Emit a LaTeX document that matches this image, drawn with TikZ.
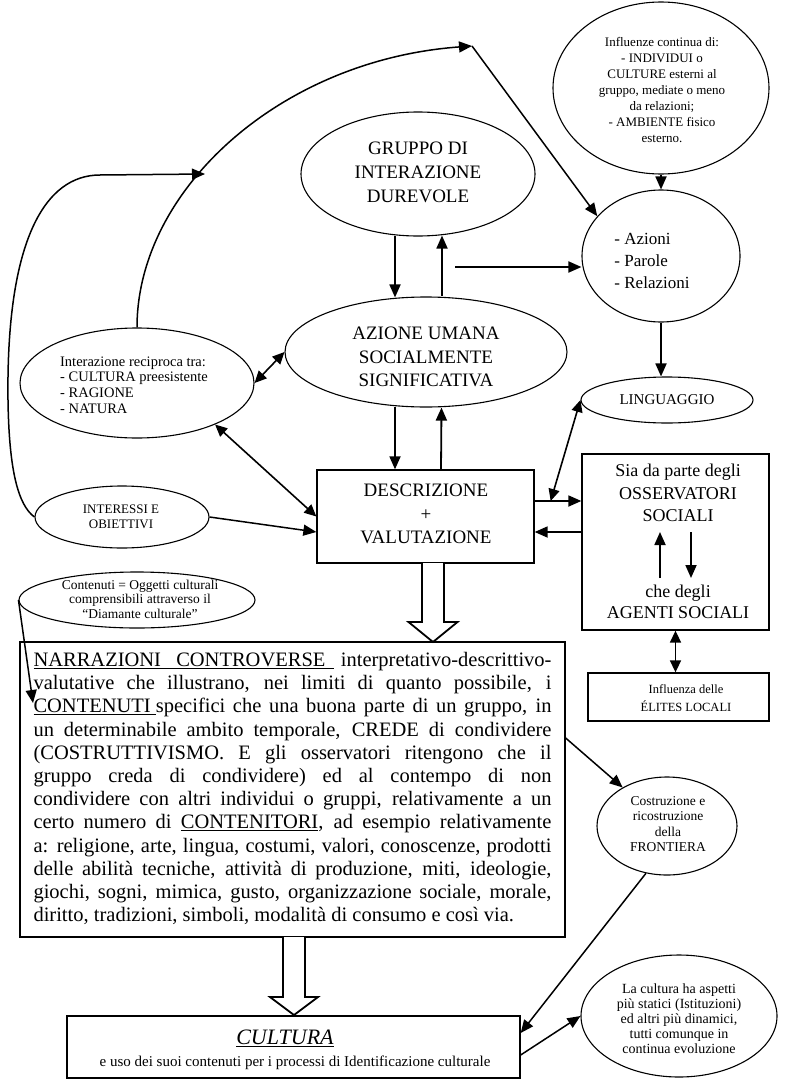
\documentclass[tikz,border=0pt]{standalone}
\usepackage{fontspec}
\setmainfont{Liberation Serif}
\usetikzlibrary{shapes.geometric,arrows.meta,calc}
\newcommand{\fsz}[2]{\fontsize{#1}{#2}\selectfont}
\newcommand{\jl}[1]{\makebox[518pt][s]{#1}}
\begin{document}
\begin{tikzpicture}[x=1pt,y=-1pt,
  ell/.style={draw, ellipse, line width=1.1pt, inner sep=0pt},
  box/.style={draw, rectangle, line width=1.3pt, inner sep=0pt},
  txt/.style={inner sep=0pt, align=center},
  tip/.style={-{Triangle[length=13pt,width=11pt]}},
  arr/.style={tip, line width=1.8pt},
  darr/.style={{Triangle[length=12pt,width=11pt]}-{Triangle[length=12pt,width=11pt]}, line width=1.6pt},
  curve/.style={tip, line width=1.5pt},
  hollow/.style={draw, line width=1.8pt, fill=white, line join=miter}]
\fill[white] (0,0) rectangle (785,1081);
\useasboundingbox (0,0) rectangle (785,1081);

% ---------- nodes ----------
\node[ell, minimum width=216, minimum height=172] (infl) at (661,88) {};
\node[txt, font=\fsz{13}{16}] (inflt) at (662,90) {Influenze continua di:\\- INDIVIDUI o\\CULTURE esterni al\\gruppo, mediate o meno\\da relazioni;\\- AMBIENTE fisico\\esterno.};

\node[ell, minimum width=158, minimum height=132] (azioni) at (661,256) {};
\node[txt, align=left, font=\fsz{17}{22}] (azionit) at (652,261) {- Azioni\\- Parole\\- Relazioni};

\node[ell, minimum width=234, minimum height=124] (gruppo) at (418,174) {};
\node[txt, font=\fsz{19}{24}] (gruppot) at (418,172) {GRUPPO DI\\INTERAZIONE\\DUREVOLE};

\node[ell, minimum width=282, minimum height=110] (azione) at (426,352) {};
\node[txt, font=\fsz{19}{23.5}] (azionet) at (426,357) {AZIONE UMANA\\SOCIALMENTE\\SIGNIFICATIVA};

\node[ell, minimum width=234, minimum height=110] (inter) at (137,383) {};
\node[txt, align=left, font=\fsz{14.5}{15.7}] (intert) at (134,385) {Interazione reciproca tra:\\- CULTURA preesistente\\- RAGIONE\\- NATURA};

\node[ell, minimum width=174, minimum height=62] (interessi) at (122,517) {};
\node[txt, font=\fsz{13}{14.5}] (interessit) at (121,517) {INTERESSI E\\OBIETTIVI};

\node[ell, minimum width=172, minimum height=46] (ling) at (667,400) {};
\node[txt, font=\fsz{15}{18}] (lingt) at (667,400) {LINGUAGGIO};

\node[box, minimum width=217, minimum height=93] (desc) at (425.5,516.5) {};
\node[txt, font=\fsz{19}{23.5}] (desct) at (426,514) {DESCRIZIONE\\+\\VALUTAZIONE};

\node[box, minimum width=187, minimum height=176] (obs) at (675.5,542) {};
\node[txt, font=\fsz{18}{22.5}] (obsa) at (678,493) {Sia da parte degli\\OSSERVATORI\hspace*{16pt}\\SOCIALI};
\node[txt, font=\fsz{18}{21}] (obsb) at (678,602) {che degli\\AGENTI SOCIALI};

\node[box, minimum width=181, minimum height=48] (elites) at (678.5,697) {};
\node[txt, font=\fsz{12.5}{18}] (elitest) at (686,698) {Influenza delle\\ÉLITES LOCALI};

\node[ell, minimum width=236, minimum height=56] (cont) at (137,600) {};
\node[txt, font=\fsz{13.5}{14.5}] (contt) at (140,599) {Contenuti = Oggetti culturali\\comprensibili attraverso il\\``Diamante culturale''};

\node[box, minimum width=545, minimum height=295] (narr) at (292.5,789.5) {\fsz{20.5}{23.2}%
\begin{tabular}{@{}l@{}}
\jl{\underline{\makebox[300pt][s]{NARRAZIONI\hfil CONTROVERSE\hspace{8pt}}}\hfill interpretativo-descrittivo-}\\
\jl{valutative che illustrano, nei limiti di quanto possibile, i}\\
\jl{\underline{CONTENUTI\ }specifici che una buona parte di un gruppo, in}\\
\jl{un determinabile ambito temporale, CREDE di condividere}\\
\jl{(COSTRUTTIVISMO. E gli osservatori ritengono che il}\\
\jl{gruppo creda di condividere) ed al contempo di non}\\
\jl{condividere con altri individui o gruppi, relativamente a un}\\
\jl{certo numero di \underline{CONTENITORI}, ad esempio relativamente}\\
\jl{a: religione, arte, lingua, costumi, valori, conoscenze, prodotti}\\
\jl{delle abilità tecniche, attività di produzione, miti, ideologie,}\\
\jl{giochi, sogni, mimica, gusto, organizzazione sociale, morale,}\\
\makebox[518pt][l]{diritto, tradizioni, simboli, modalità di consumo e così via.}
\end{tabular}};

\node[ell, minimum width=140, minimum height=98] (costr) at (667,826) {};
\node[txt, font=\fsz{13.5}{15.5}] (costrt) at (668,824) {Costruzione e\\ricostruzione\\della\\FRONTIERA};

\node[ell, minimum width=196, minimum height=122] (lacult) at (679,1016) {};
\node[txt, font=\fsz{14}{15}] (lacultt) at (679,1019) {La cultura ha aspetti\\più statici (Istituzioni)\\ed altri più dinamici,\\tutti comunque in\\continua evoluzione};

\node[box, minimum width=453, minimum height=62] (cultura) at (293.5,1047) {};
\node[txt, font=\fsz{22}{24}] (culturat) at (285,1038) {\underline{\textit{CULTURA}}};
\node[txt, font=\fsz{15}{17}] (culturas) at (295,1063) {e uso dei suoi contenuti per i processi di Identificazione culturale};

% ---------- hollow arrows ----------
\draw[hollow] (422,563) -- (422,622) -- (408.5,622) -- (433,642) -- (457.5,622) -- (444,622) -- (444,563);
\draw[hollow] (283,937) -- (283,997) -- (270,997) -- (294,1015) -- (318,997) -- (305,997) -- (305,937);

% ---------- connectors ----------
\draw[arr] (infl.south) -- (azioni.north);
\draw[arr] (azioni.south) -- (azioni.south |- ling.north);

\draw[arr] ($(gruppo.south)+(-23,-1)$) -- ($(azione.north)+(-31,1)$);
\draw[arr] ($(azione.north)+(16,0)$) -- ($(gruppo.south)+(24,-1)$);
\draw[arr] ($(azione.south)+(-31,-1)$) -- ($(desc.north)+(-30.5,0)$);
\draw[arr] ($(desc.north)+(15.5,0)$) -- ($(azione.south)+(15.5,0)$);

\coordinate (aout) at (455,267);
\draw[arr] (aout) -- (aout -| azioni.west);

\coordinate (arctop) at (472,46);
\draw[curve] (inter.north) .. controls (137,190) and (280,60) .. (arctop);
\draw[curve] (arctop) -- (azioni.148);

\coordinate (lefttip) at (205,174);
\draw[curve] (interessi.west) .. controls (18,505) and (9,470) .. (8,400)
   .. controls (6,240) and (45,175) .. (100,175) -- (lefttip);

\draw[darr] (inter.east) -- (azione.west);
\draw[darr] (inter.332) -- (desc.west);
\draw[curve] (interessi.east) -- ($(desc.west)+(0,15.5)$);

\coordinate (d1) at ($(desc.east)+(0,-15.5)$);
\coordinate (d2) at ($(desc.east)+(0,15.5)$);
\draw[arr] (d1) -- (d1 -| obs.west);
\draw[arr] (d2 -| obs.west) -- (d2);
\coordinate (lingend) at ($(d1)+(16,0)$);
\draw[darr] (ling.west) -- (lingend);

\coordinate (u1) at (660,578);
\coordinate (u2) at (660,532);
\draw[arr] (u1) -- (u2);
\coordinate (v1) at (691,532);
\coordinate (v2) at (691,578);
\draw[arr] (v1) -- (v2);

\draw[darr] (obs.south) -- (obs.south |- elites.north);

\coordinate (contip) at (33,703);
\draw[curve] (cont.west) -- (contip);

\draw[curve] ($(narr.east)+(0,-51.5)$) -- (costr);
\draw[curve] (costr.246) -- ($(cultura.east)+(0,-14)$);
\draw[curve] ($(cultura.east)+(0,8)$) -- (lacult.west);
\end{tikzpicture}
\end{document}
